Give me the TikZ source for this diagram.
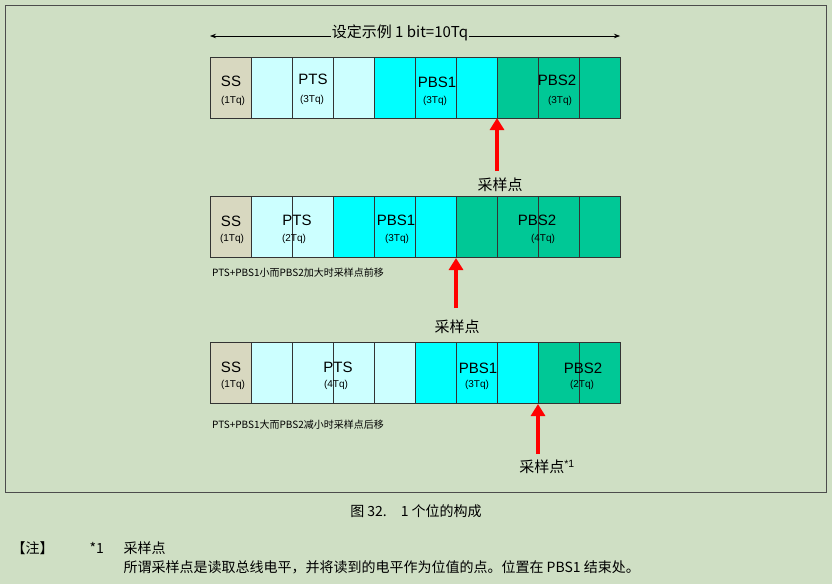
\documentclass[tikz,border=0pt]{standalone}
\usepackage{fontspec}
\setmainfont{Liberation Sans}
\newfontfamily\cjk{Noto Sans CJK SC}
\usetikzlibrary{arrows.meta}
\definecolor{bgc}{HTML}{CFDFC4}
\definecolor{ssc}{HTML}{D8D8C0}
\definecolor{ptsc}{HTML}{CCFFFF}
\definecolor{pbaa}{HTML}{00FFFF}
\definecolor{pbbb}{HTML}{00C896}
\tikzset{
 cell/.style={draw=black!80, line width=0.8pt, minimum width=41pt, minimum height=61pt, inner sep=0, anchor=north west},
 big/.style={font=\fontsize{15}{15}\selectfont, inner sep=0},
 small/.style={font=\fontsize{10}{10}\selectfont, inner sep=0},
 redarr/.style={draw=red, line width=3.5pt, -{Triangle[length=12pt,width=14pt]}},
 lbl/.style={font=\cjk\fontsize{15}{15}\selectfont, inner sep=1pt},
 note/.style={font=\cjk\fontsize{10}{10}\selectfont, anchor=west, inner sep=0},
 captext/.style={font=\cjk\fontsize{14}{14}\selectfont},
}
\begin{document}
\begin{tikzpicture}[x=1pt,y=-1pt]
\fill[bgc] (0,0) rectangle (832,584);
\useasboundingbox (0,0) rectangle (832,584);
\draw[black!70, line width=0.8pt] (5,5) rectangle (826,492);
\node[lbl, fill=bgc] (dim) at (400,33) {设定示例 1 bit=10Tq};
\coordinate (dl) at (210,36); \coordinate (dr) at (620,36);
\draw[line width=0.7pt, -{Stealth[length=6pt]}] (dim.west |- dl) -- (dl);
\draw[line width=0.7pt, -{Stealth[length=6pt]}] (dim.east |- dr) -- (dr);
\foreach \r/\y/\cols in {a/57/{ssc,ptsc,ptsc,ptsc,pbaa,pbaa,pbaa,pbbb,pbbb,pbbb},
                          b/196/{ssc,ptsc,ptsc,pbaa,pbaa,pbaa,pbbb,pbbb,pbbb,pbbb},
                          c/342/{ssc,ptsc,ptsc,ptsc,ptsc,pbaa,pbaa,pbaa,pbbb,pbbb}}{
  \foreach \c [count=\i from 0] in \cols {
    \node[cell, fill=\c] (\r\i) at (210+41*\i,\y) {};
  }
}
\node[big] (t1) at (231,81) {SS}; \node[small] (t2) at (233,101) {(1Tq)};
\node[big] (t3) at (313,79) {PTS}; \node[small] (t4) at (312,100) {(3Tq)};
\node[big] (t5) at (437,82) {PBS1}; \node[small] (t6) at (435,101) {(3Tq)};
\node[big] (t7) at (557,80) {PBS2}; \node[small] (t8) at (560,101) {(3Tq)};
\node[big] (u1) at (231,221) {SS}; \node[small] (u2) at (232,239) {(1Tq)};
\node[big] (u3) at (297,220) {PTS}; \node[small] (u4) at (294,239) {(2Tq)};
\node[big] (u5) at (396,220) {PBS1}; \node[small] (u6) at (397,239) {(3Tq)};
\node[big] (u7) at (537,220) {PBS2}; \node[small] (u8) at (543,239) {(4Tq)};
\node[big] (v1) at (231,367) {SS}; \node[small] (v2) at (233,385) {(1Tq)};
\node[big] (v3) at (338,367) {PTS}; \node[small] (v4) at (336,385) {(4Tq)};
\node[big] (v5) at (478,368) {PBS1}; \node[small] (v6) at (477,385) {(3Tq)};
\node[big] (v7) at (583,368) {PBS2}; \node[small] (v8) at (582,385) {(2Tq)};
\node[note] (n1) at (212,273) {PTS+PBS1小而PBS2加大时采样点前移};
\node[note] (n2) at (212,425) {PTS+PBS1大而PBS2减小时采样点后移};
\coordinate (p1) at (497,118); \coordinate (p2) at (456,258); \coordinate (p3) at (538,404);
\node[lbl] (s1) at (500,185) {采样点};
\node[lbl] (s2) at (457,327) {采样点};
\node[lbl] (s3) at (547,467) {采样点\textsuperscript{\rmfamily *1}};
\draw[redarr] (497,171) -- (p1);
\draw[redarr] (456,308) -- (p2);
\draw[redarr] (538,454) -- (p3);
\node[captext] (capn) at (416,511) {图 32.\quad 1 个位的构成};
\node[captext, anchor=west] (z1) at (8,548) {【注】};
\node[captext, anchor=west] (z2) at (86,548) {*1};
\node[captext, anchor=west] (z3) at (120,548) {采样点};
\node[captext, anchor=west] (z4) at (120,567) {所谓采样点是读取总线电平，并将读到的电平作为位值的点。位置在 PBS1 结束处。};
\end{tikzpicture}
\end{document}
